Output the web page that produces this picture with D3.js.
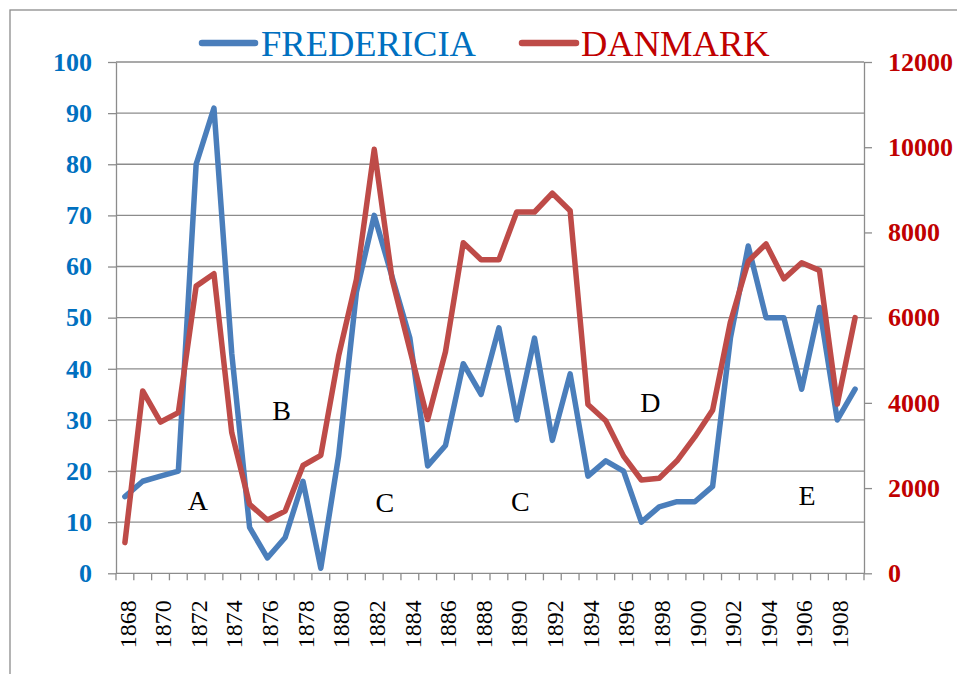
<!DOCTYPE html>
<html>
<head>
<meta charset="utf-8">
<script src="https://cdn.jsdelivr.net/npm/d3@7"></script>
<style>
  body { margin: 0; background: #fff; }
  svg { display: block; }
  svg text { font-family: "Liberation Serif", "Times New Roman", serif; }
</style>
</head>
<body>
<div id="chart"></div>
<script>
// categories and series
const years = d3.range(1868, 1910);
const fredericia = [15, 18, 19, 20, 80, 91, 43, 9, 3, 7, 18, 1, 23, 55, 70, 58, 46, 21, 25, 41,
  35, 48, 30, 46, 26, 39, 19, 22, 20, 10, 13, 14, 14, 17, 46, 64, 50, 50, 36, 52, 30, 36];
const danmark = [720, 4280, 3550, 3770, 6740, 7030, 3300, 1620, 1250, 1460, 2530, 2770, 5100, 6900,
  9950, 6910, 5250, 3610, 5200, 7760, 7360, 7360, 8480, 8480, 8920, 8510, 3960, 3580, 2750, 2190,
  2230, 2640, 3200, 3830, 5900, 7320, 7730, 6910, 7290, 7110, 3970, 6000];
const leftTicks = [0, 10, 20, 30, 40, 50, 60, 70, 80, 90, 100];
const rightTicks = [0, 2000, 4000, 6000, 8000, 10000, 12000];
const yearLabels = years.filter(y => (y - 1868) % 2 === 0);
// period letters: year position, left-axis value of the baseline
const notes = [
  { t: "A", year: 1872.1, v: 12.4 },
  { t: "B", year: 1876.8, v: 30 },
  { t: "C", year: 1882.6, v: 12.0 },
  { t: "C", year: 1890.2, v: 12.2 },
  { t: "D", year: 1897.5, v: 31.6 },
  { t: "E", year: 1906.3, v: 13.3 }
];

const width = 957, height = 674;
const plotL = 116, plotR = 864, plotT = 62, plotB = 573.3;
const blue = "#4a7ebb", red = "#be4b48";
const grid = "#8c8c8c";
const serif = "\"Liberation Serif\", \"Times New Roman\", serif";

const svg = d3.select("#chart").append("svg")
  .attr("width", width)
  .attr("height", height);

// outer frame
svg.append("rect")
  .attr("x", 10).attr("y", 10)
  .attr("width", 960).attr("height", 680)
  .attr("fill", "none")
  .attr("stroke", grid)
  .attr("stroke-width", 1.3);

const x = d3.scaleBand().domain(years).range([plotL, plotR]).padding(0);
const bw = x.bandwidth();
const xYear = d3.scaleLinear()
  .domain([years[0], years[years.length - 1]])
  .range([x(years[0]) + bw / 2, x(years[years.length - 1]) + bw / 2]);
const yL = d3.scaleLinear().domain([0, 100]).range([plotB, plotT]);
const yR = d3.scaleLinear().domain([0, 12000]).range([plotB, plotT]);

// horizontal gridlines
svg.append("g").selectAll("line")
  .data(leftTicks)
  .enter().append("line")
  .attr("x1", plotL).attr("x2", plotR)
  .attr("y1", d => yL(d)).attr("y2", d => yL(d))
  .attr("stroke", grid)
  .attr("stroke-width", 1.3);

// category tick marks
const bounds = years.map(y => x(y)).concat([plotR]);
svg.append("g").selectAll("line")
  .data(bounds)
  .enter().append("line")
  .attr("x1", d => d).attr("x2", d => d)
  .attr("y1", plotB).attr("y2", plotB + 7)
  .attr("stroke", grid)
  .attr("stroke-width", 1.3);

// left axis
const leftAxis = svg.append("g")
  .attr("transform", "translate(" + plotL + ",0)")
  .call(d3.axisLeft(yL).tickValues(leftTicks).tickSize(8).tickSizeOuter(0).tickPadding(16));
leftAxis.selectAll("path, line").attr("stroke", grid).attr("stroke-width", 1.3);
leftAxis.selectAll("text")
  .style("font-family", serif)
  .style("font-size", "26px")
  .style("font-weight", "bold")
  .attr("fill", "#0070c0");

// right axis
const rightAxis = svg.append("g")
  .attr("transform", "translate(" + plotR + ",0)")
  .call(d3.axisRight(yR).tickValues(rightTicks).tickFormat(d3.format("d"))
    .tickSize(8).tickSizeOuter(0).tickPadding(16));
rightAxis.selectAll("path, line").attr("stroke", grid).attr("stroke-width", 1.3);
rightAxis.selectAll("text")
  .style("font-family", serif)
  .style("font-size", "26px")
  .style("font-weight", "bold")
  .attr("fill", "#c00000");

// year labels
svg.append("g").selectAll("text")
  .data(yearLabels)
  .enter().append("text")
  .style("font-family", serif)
  .style("font-size", "24px")
  .attr("text-anchor", "end")
  .attr("dominant-baseline", "central")
  .attr("transform", d => "translate(" + (x(d) + bw / 2 + 2.7) + "," + (plotB + 27) + ") rotate(-90)")
  .text(d => d);

// series
const lineL = d3.line()
  .x((d, i) => x(years[i]) + bw / 2)
  .y(d => yL(d));
const lineR = d3.line()
  .x((d, i) => x(years[i]) + bw / 2)
  .y(d => yR(d));

svg.append("path")
  .attr("d", lineL(fredericia))
  .attr("fill", "none")
  .attr("stroke", blue)
  .attr("stroke-width", 5.5)
  .attr("stroke-linejoin", "round")
  .attr("stroke-linecap", "round");

svg.append("path")
  .attr("d", lineR(danmark))
  .attr("fill", "none")
  .attr("stroke", red)
  .attr("stroke-width", 5.5)
  .attr("stroke-linejoin", "round")
  .attr("stroke-linecap", "round");

// period letters
svg.append("g").selectAll("text")
  .data(notes)
  .enter().append("text")
  .style("font-family", serif)
  .style("font-size", "28px")
  .attr("text-anchor", "middle")
  .attr("x", d => xYear(d.year))
  .attr("y", d => yL(d.v))
  .attr("fill", "#000")
  .text(d => d.t);

// legend
const legend = [
  { name: "FREDERICIA", stroke: blue, color: "#0070c0", x1: 202, x2: 255, tx: 261 },
  { name: "DANMARK", stroke: red, color: "#c00000", x1: 522, x2: 576, tx: 581 }
];
const lg = svg.append("g");
legend.forEach(l => {
  lg.append("line")
    .attr("x1", l.x1).attr("x2", l.x2)
    .attr("y1", 43).attr("y2", 43)
    .attr("stroke", l.stroke)
    .attr("stroke-width", 6.5)
    .attr("stroke-linecap", "round");
  lg.append("text")
    .style("font-family", serif)
    .style("font-size", "36.5px")
    .attr("x", l.tx)
    .attr("y", 56)
    .attr("fill", l.color)
    .text(l.name);
});
</script>
</body>
</html>
